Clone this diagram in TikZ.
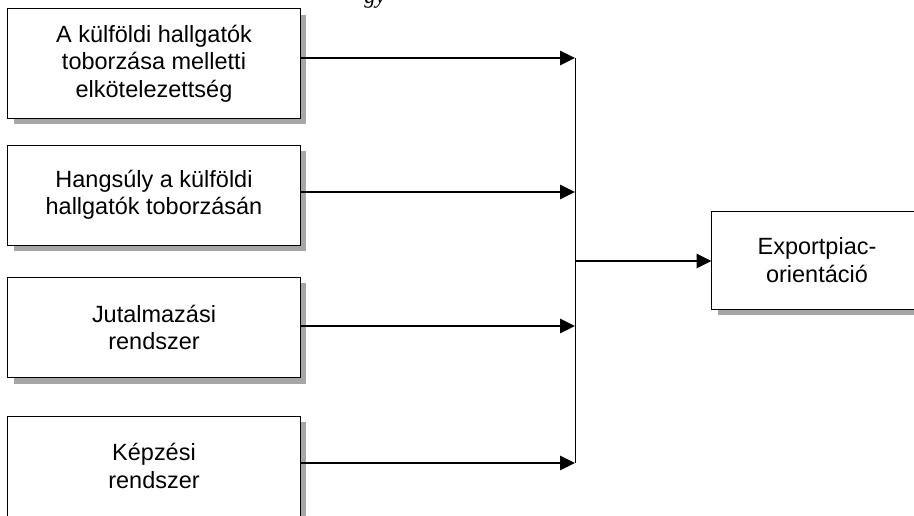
\documentclass[tikz,border=0pt]{standalone}
\usepackage{fontspec}
\setmainfont{Liberation Sans}
\newfontfamily\capfont{Liberation Serif}
\usetikzlibrary{arrows.meta, shadows}

\begin{document}
\begin{tikzpicture}[
  x=0.025cm, y=-0.025cm,
  every node/.style={font=\fontsize{16.7}{19.5}\selectfont},
  fct/.style={draw, fill=white, line width=0.7pt, align=center,
              minimum width=7.3cm, minimum height=2.5cm, inner sep=0pt,
              drop shadow={shadow xshift=0.15cm, shadow yshift=-0.15cm,
                           fill=black!35, opacity=1}},
  arr/.style={line width=1.4pt, -{Triangle[length=10.5pt,width=10pt]}},
  bus/.style={line width=0.7pt}
]
\useasboundingbox (0,0) rectangle (914,515);

%% caption (cut off at the top)
\node[font=\capfont\itshape\fontsize{16}{19}\selectfont, anchor=base] (cap) at (375,3) {gy};

%% factors
\node[fct, minimum height=2.725cm] (kf) at (154,63.5)
  {A külföldi hallgatók\\toborzása melletti\\elkötelezettség};
\node[fct] (hs) at (154,195)   {Hangsúly a külföldi\\hallgatók toborzásán};
\node[fct] (jr) at (154,327.5) {Jutalmazási\\rendszer};
\node[fct] (kr) at (154,466)   {Képzési\\rendszer};
\node[fct, minimum width=5.25cm, minimum height=2.45cm] (ex) at (817,260)
  {Exportpiac-\\orientáció};

%% bus
\coordinate (b1) at (575,58);
\coordinate (b2) at (575,192);
\coordinate (b3) at (575,326);
\coordinate (b4) at (575,463);
\coordinate (bm) at (575,261);
\draw[bus] (b1) -- (b4);

%% arrows
\foreach \a/\b in {kf/b1,hs/b2,jr/b3,kr/b4}
  \draw[arr] (\a.east |- \b) -- (\b);
\draw[arr] (bm) -- (ex.west |- bm);
\end{tikzpicture}
\end{document}
